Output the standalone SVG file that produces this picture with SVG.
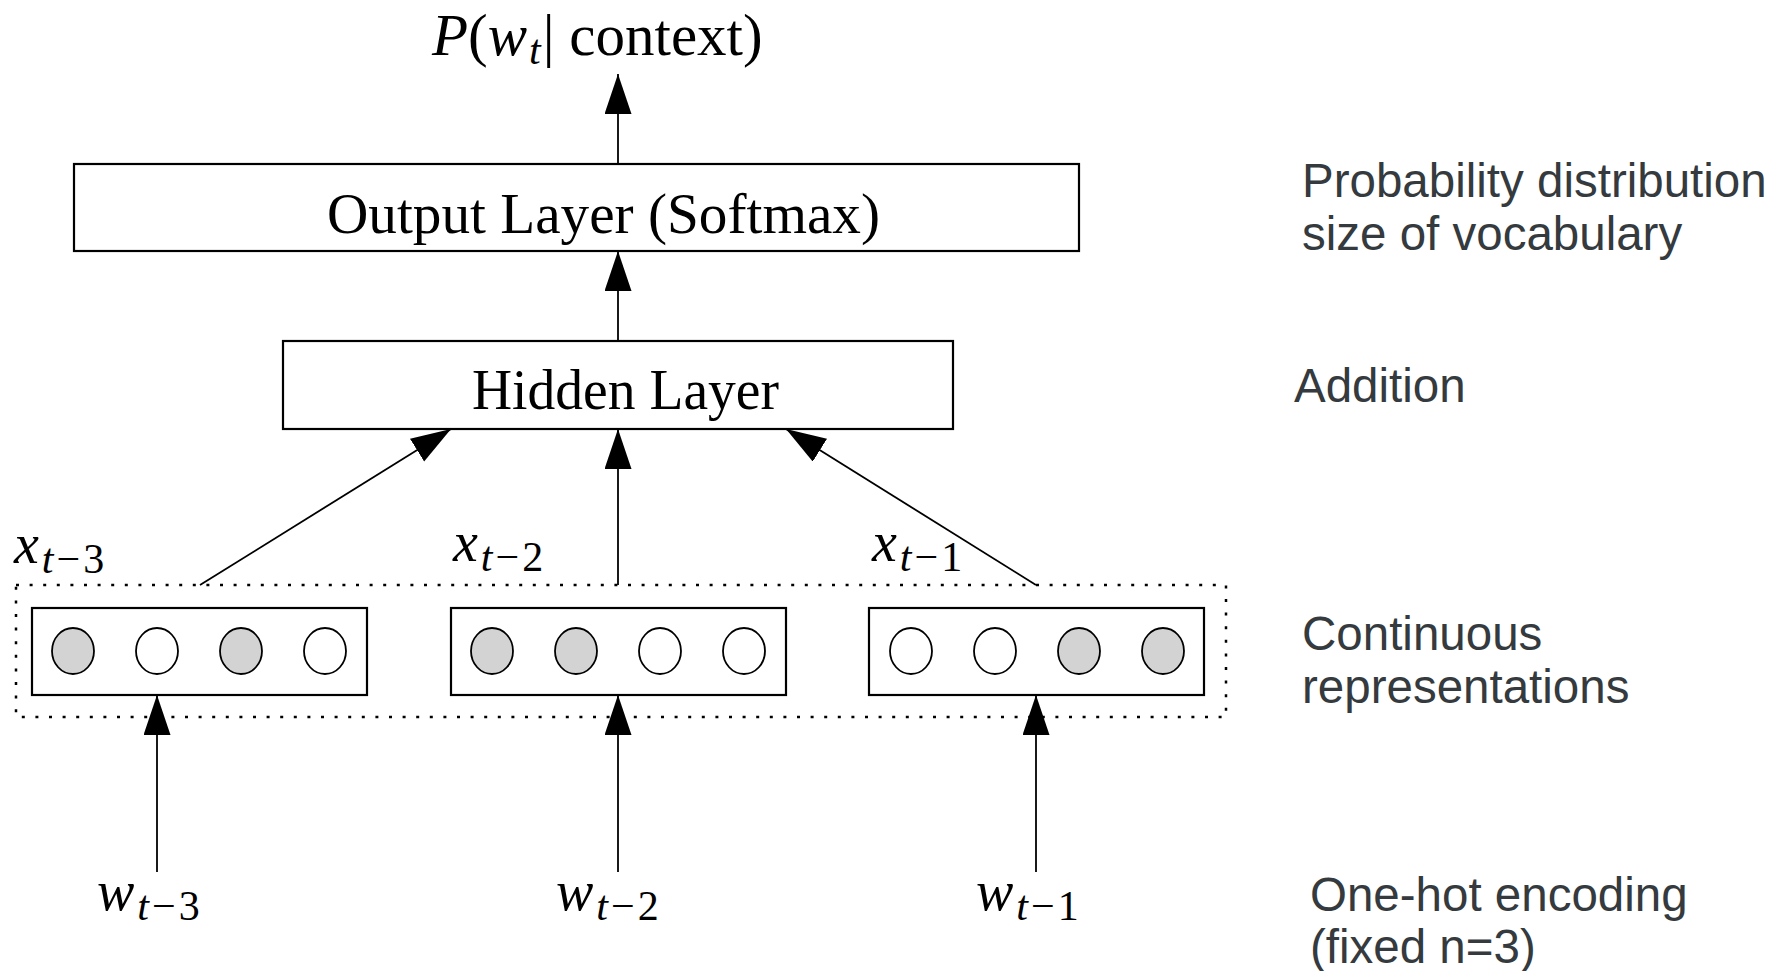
<svg xmlns="http://www.w3.org/2000/svg" width="1781" height="971" viewBox="0 0 1781 971">
<defs>
<marker id="ah" markerUnits="userSpaceOnUse" markerWidth="42" markerHeight="28" refX="40" refY="13.5" orient="auto">
<path d="M0,0 L40,13.5 L0,27 Z" fill="#000"/>
</marker>
<style>
.box{fill:#fff;stroke:#000;stroke-width:2.2}
.edge{stroke:#000;stroke-width:1.8;fill:none;marker-end:url(#ah)}
.on{fill:#d3d3d3;stroke:#000;stroke-width:1.8}
.off{fill:#fff;stroke:#000;stroke-width:1.8}
.cm{font-family:"Liberation Serif","DejaVu Serif",serif;fill:#000}
.mi{font-style:italic}
.lbl{font-family:"Liberation Sans",Arial,sans-serif;font-size:47.5px;fill:#343a3d}
</style>
</defs>
<rect width="1781" height="971" fill="#fff"/>

<g id="title">
<text class="cm" x="432" y="55" font-size="59"><tspan class="mi">P</tspan>(<tspan class="mi">w</tspan><tspan class="mi" font-size="42" dy="9" dx="2">t</tspan><tspan dy="-9" dx="2">|</tspan><tspan> context)</tspan></text>
</g>

<g id="output-layer">
<rect class="box" x="74" y="164" width="1005" height="87"/>
<text class="cm" x="327" y="233" font-size="57" textLength="553" lengthAdjust="spacingAndGlyphs">Output Layer (Softmax)</text>
</g>

<g id="hidden-layer">
<rect class="box" x="283" y="341" width="670" height="88"/>
<text class="cm" x="472" y="409" font-size="57" textLength="307" lengthAdjust="spacingAndGlyphs">Hidden Layer</text>
</g>

<g id="continuous-group">
<rect x="16" y="585" width="1210" height="132" fill="none" stroke="#000" stroke-width="2.5" stroke-dasharray="3 10.6"/>
</g>

<g id="vec-t3">
<rect class="box" x="32" y="608" width="335" height="87"/>
<ellipse class="on" cx="73" cy="651" rx="21" ry="23"/>
<ellipse class="off" cx="157" cy="651" rx="21" ry="23"/>
<ellipse class="on" cx="241" cy="651" rx="21" ry="23"/>
<ellipse class="off" cx="325" cy="651" rx="21" ry="23"/>
<text class="cm" x="14" y="563" font-size="56"><tspan class="mi">x</tspan><tspan class="mi" font-size="42" dy="10" dx="3">t</tspan><tspan font-size="42" dx="3">−</tspan><tspan font-size="42" dx="3">3</tspan></text>
</g>

<g id="vec-t2">
<rect class="box" x="451" y="608" width="335" height="87"/>
<ellipse class="on" cx="492" cy="651" rx="21" ry="23"/>
<ellipse class="on" cx="576" cy="651" rx="21" ry="23"/>
<ellipse class="off" cx="660" cy="651" rx="21" ry="23"/>
<ellipse class="off" cx="744" cy="651" rx="21" ry="23"/>
<text class="cm" x="453" y="561" font-size="56"><tspan class="mi">x</tspan><tspan class="mi" font-size="42" dy="10" dx="3">t</tspan><tspan font-size="42" dx="3">−</tspan><tspan font-size="42" dx="3">2</tspan></text>
</g>

<g id="vec-t1">
<rect class="box" x="869" y="608" width="335" height="87"/>
<ellipse class="off" cx="911" cy="651" rx="21" ry="23"/>
<ellipse class="off" cx="995" cy="651" rx="21" ry="23"/>
<ellipse class="on" cx="1079" cy="651" rx="21" ry="23"/>
<ellipse class="on" cx="1163" cy="651" rx="21" ry="23"/>
<text class="cm" x="872" y="561" font-size="56"><tspan class="mi">x</tspan><tspan class="mi" font-size="42" dy="10" dx="3">t</tspan><tspan font-size="42" dx="3">−</tspan><tspan font-size="42" dx="3">1</tspan></text>
</g>

<g id="word-t3">
<text class="cm" x="97" y="910" font-size="56"><tspan class="mi">w</tspan><tspan class="mi" font-size="42" dy="10" dx="3">t</tspan><tspan font-size="42" dx="3">−</tspan><tspan font-size="42" dx="3">3</tspan></text>
</g>
<g id="word-t2">
<text class="cm" x="556" y="910" font-size="56"><tspan class="mi">w</tspan><tspan class="mi" font-size="42" dy="10" dx="3">t</tspan><tspan font-size="42" dx="3">−</tspan><tspan font-size="42" dx="3">2</tspan></text>
</g>
<g id="word-t1">
<text class="cm" x="976" y="910" font-size="56"><tspan class="mi">w</tspan><tspan class="mi" font-size="42" dy="10" dx="3">t</tspan><tspan font-size="42" dx="3">−</tspan><tspan font-size="42" dx="3">1</tspan></text>
</g>

<g id="connectors">
<line class="edge" x1="618" y1="164" x2="618" y2="74"/>
<line class="edge" x1="618" y1="341" x2="618" y2="251"/>
<line class="edge" x1="200" y1="585" x2="451" y2="429"/>
<line class="edge" x1="618" y1="585" x2="618" y2="429"/>
<line class="edge" x1="1036" y1="585" x2="786" y2="429"/>
<line class="edge" x1="157" y1="872" x2="157" y2="695"/>
<line class="edge" x1="618" y1="872" x2="618" y2="695"/>
<line class="edge" x1="1036" y1="872" x2="1036" y2="695"/>
</g>

<g id="side-labels">
<text class="lbl" x="1302" y="197">Probability distribution</text>
<text class="lbl" x="1302" y="250">size of vocabulary</text>
<text class="lbl" x="1294" y="402">Addition</text>
<text class="lbl" x="1302" y="650">Continuous</text>
<text class="lbl" x="1302" y="703">representations</text>
<text class="lbl" x="1310" y="911">One-hot encoding</text>
<text class="lbl" x="1310" y="963">(fixed n=3)</text>
</g>
</svg>
